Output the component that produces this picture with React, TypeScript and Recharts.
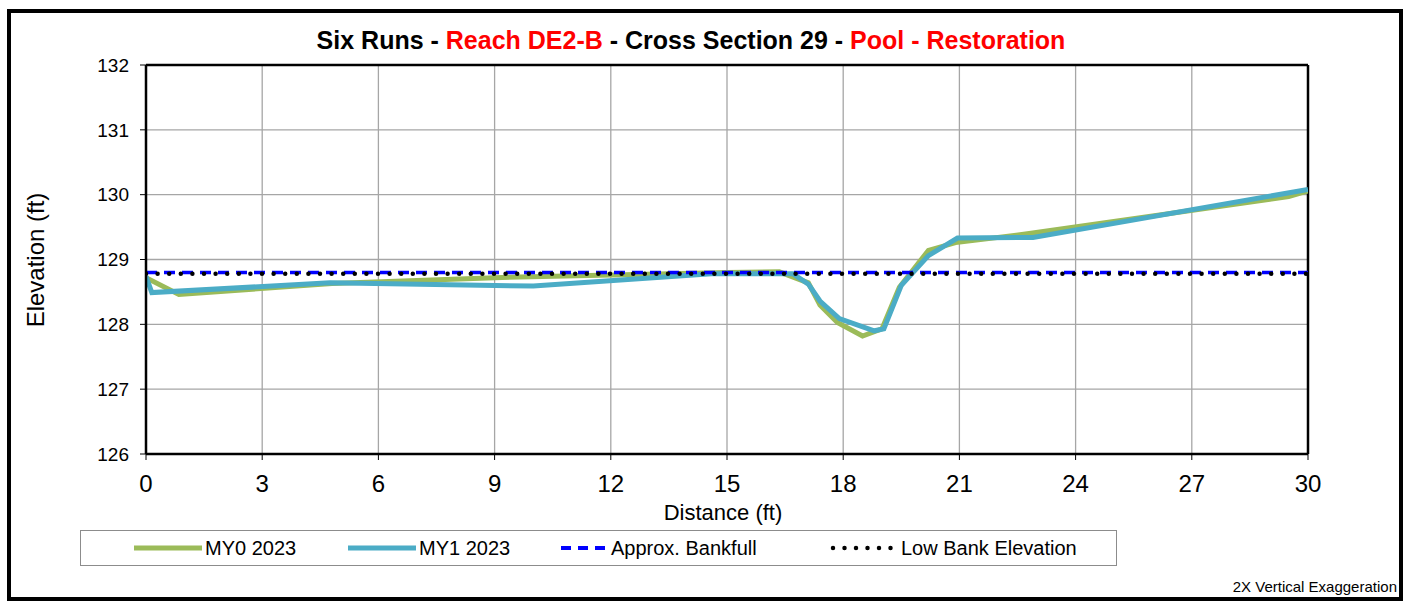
import React from "react";
import { LineChart, Line, XAxis, YAxis, CartesianGrid, ReferenceLine } from "recharts";

// survey stations (ft) and elevations (ft)
const my0Distance = [0, 0.85, 4.8, 9.0, 15.0, 16.35, 17.1, 17.4, 17.85, 18.5, 19.0, 19.45, 20.2, 20.9, 22.8, 29.5, 30];
const my0Elevation = [128.72, 128.46, 128.63, 128.72, 128.8, 128.81, 128.64, 128.3, 128.03, 127.82, 127.93, 128.57, 129.14, 129.26, 129.4, 129.97, 130.06];

const my1Distance = [0, 0.15, 4.75, 10.0, 14.6, 16.7, 17.1, 17.4, 17.9, 18.8, 19.05, 19.5, 20.2, 20.95, 22.9, 30];
const my1Elevation = [128.74, 128.49, 128.64, 128.59, 128.78, 128.78, 128.62, 128.36, 128.09, 127.9, 127.93, 128.6, 129.06, 129.33, 129.34, 130.08];

const bankDistance = [0, 30];
const bankfullElevation = [128.8, 128.8];
const lowBankElevation = [128.78, 128.78];

const distanceTicks = [0, 3, 6, 9, 12, 15, 18, 21, 24, 27, 30];
const elevationTicks = [126, 127, 128, 129, 130, 131, 132];

const toPoints = (xs: number[], ys: number[]) =>
  xs.map((x, i) => ({ distance: x, elevation: ys[i] }));

const FONT = '"Liberation Sans", Arial, sans-serif';
const GREEN = "#9BBB59";
const TEAL = "#4BACC6";

const LegendSwatch = ({ kind }: { kind: string }) => {
  if (kind === "dash")
    return (
      <svg width={48} height={10} style={{ display: "block" }}>
        <line x1={1} y1={5} x2={47} y2={5} stroke="#0000FF" strokeWidth={4} strokeDasharray="10 7" />
      </svg>
    );
  if (kind === "dot")
    return (
      <svg width={68} height={10} style={{ display: "block" }}>
        <line x1={3} y1={5} x2={66} y2={5} stroke="#000" strokeWidth={4.5} strokeLinecap="round" strokeDasharray="0 11.5" />
      </svg>
    );
  return (
    <svg width={68} height={10} style={{ display: "block" }}>
      <line x1={0} y1={5} x2={68} y2={5} stroke={kind} strokeWidth={5} />
    </svg>
  );
};

const legendItems = [
  { label: "MY0 2023", kind: GREEN, x: 133 },
  { label: "MY1 2023", kind: TEAL, x: 347 },
  { label: "Approx. Bankfull", kind: "dash", x: 559 },
  { label: "Low Bank Elevation", kind: "dot", x: 829 },
];

export default function App() {
  return (
    <div style={{ position: "absolute", left: 0, top: 0, width: 1403, height: 602, background: "#fff", fontFamily: FONT, overflow: "hidden" }}>
      <div style={{ position: "absolute", left: 7, top: 9, width: 1396, height: 592, border: "4px solid #000", boxSizing: "border-box" }} />

      <div style={{ position: "absolute", left: 0, top: 25, width: 1382, textAlign: "center", fontSize: 25, fontWeight: "bold", lineHeight: "30px", whiteSpace: "nowrap" }}>
        <span>Six Runs - </span>
        <span style={{ color: "#FF0000" }}>Reach DE2-B</span>
        <span> - Cross Section 29 - </span>
        <span style={{ color: "#FF0000" }}>Pool - Restoration</span>
      </div>

      <div style={{ position: "absolute", left: 0, top: 0 }}>
        <LineChart width={1403} height={602} margin={{ top: 65, right: 95, left: 0, bottom: 108 }}>
          <CartesianGrid stroke="#A6A6A6" strokeWidth={1.3} />
          <XAxis
            dataKey="distance"
            type="number"
            domain={[0, 30]}
            ticks={distanceTicks}
            allowDataOverflow
            height={40}
            axisLine={{ stroke: "#000", strokeWidth: 2.5 }}
            tickLine={{ stroke: "#000" }}
            tickSize={6}
            tickMargin={15}
            tick={{ fill: "#000", fontSize: 24, fontFamily: FONT }}
          />
          <YAxis
            type="number"
            domain={[126, 132]}
            ticks={elevationTicks}
            allowDataOverflow
            width={146}
            axisLine={{ stroke: "#000", strokeWidth: 2.5 }}
            tickLine={{ stroke: "#000" }}
            tickSize={6}
            tickMargin={11}
            tick={{ fill: "#000", fontSize: 19, fontFamily: FONT }}
          />
          <ReferenceLine y={132} stroke="#000" strokeWidth={2.5} />
          <ReferenceLine x={30} stroke="#000" strokeWidth={2.5} />
          <Line data={toPoints(my0Distance, my0Elevation)} dataKey="elevation" type="linear" stroke={GREEN} strokeWidth={5} dot={false} isAnimationActive={false} />
          <Line data={toPoints(my1Distance, my1Elevation)} dataKey="elevation" type="linear" stroke={TEAL} strokeWidth={5} dot={false} isAnimationActive={false} />
          <Line data={toPoints(bankDistance, bankfullElevation)} dataKey="elevation" type="linear" stroke="#0000FF" strokeWidth={3.5} strokeDasharray="11 7" dot={false} isAnimationActive={false} />
          <Line data={toPoints(bankDistance, lowBankElevation)} dataKey="elevation" type="linear" stroke="#000" strokeWidth={4.5} strokeLinecap="round" strokeDasharray="0 11.6" dot={false} isAnimationActive={false} />
        </LineChart>
      </div>

      <div style={{ position: "absolute", left: 0, top: 260, width: 0, height: 0 }}>
        <div style={{ position: "absolute", left: 36, top: 0, transform: "translate(-50%, -50%) rotate(-90deg)", fontSize: 24, whiteSpace: "nowrap" }}>
          Elevation (ft)
        </div>
      </div>

      <div style={{ position: "absolute", left: 0, top: 500, width: 1446, textAlign: "center", fontSize: 22, lineHeight: "26px" }}>
        Distance (ft)
      </div>

      <div style={{ position: "absolute", left: 80, top: 530, width: 1037, height: 36, border: "1px solid #8C8C8C", boxSizing: "border-box" }}>
        {legendItems.map((item) => (
          <div key={item.label} style={{ position: "absolute", left: item.x - 80, top: 0, height: 34, display: "flex", alignItems: "center", fontSize: 20, whiteSpace: "nowrap" }}>
            <LegendSwatch kind={item.kind} />
            <span style={{ marginLeft: 3 }}>{item.label}</span>
          </div>
        ))}
      </div>

      <div style={{ position: "absolute", right: 6, top: 578, fontSize: 15, whiteSpace: "nowrap" }}>
        2X Vertical Exaggeration
      </div>
    </div>
  );
}
